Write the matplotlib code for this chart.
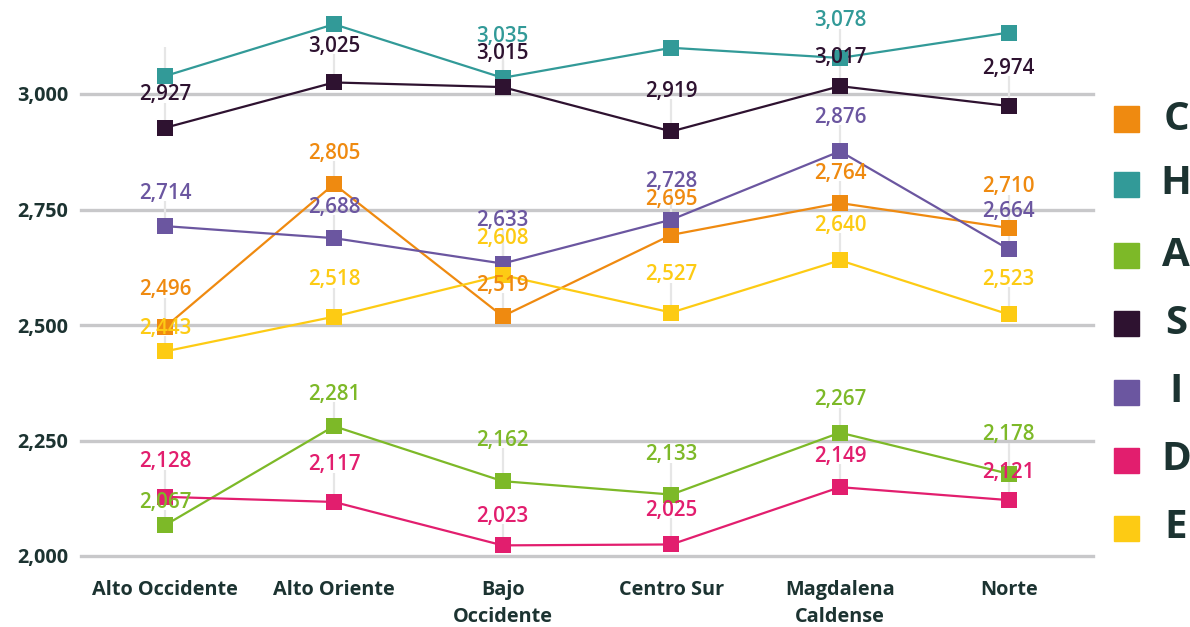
import matplotlib.pyplot as plt
from matplotlib.patches import Rectangle

# regiones y series
regiones = ["Alto Occidente", "Alto Oriente", "Bajo\nOccidente", "Centro Sur",
            "Magdalena\nCaldense", "Norte"]
series = ["C", "H", "A", "S", "I", "D", "E"]

C = [2496, 2805, 2519, 2695, 2764, 2710]
H = [3039, 3151, 3035, 3100, 3078, 3133]
A = [2067, 2281, 2162, 2133, 2267, 2178]
S = [2927, 3025, 3015, 2919, 3017, 2974]
I = [2714, 2688, 2633, 2728, 2876, 2664]
D = [2128, 2117, 2023, 2025, 2149, 2121]
E = [2443, 2518, 2608, 2527, 2640, 2523]
valores = {"C": C, "H": H, "A": A, "S": S, "I": I, "D": D, "E": E}

y_ticks = [2000, 2250, 2500, 2750, 3000]

colores = {
    "C": "#EF8A10",
    "H": "#329A98",
    "A": "#7DB928",
    "S": "#2E1230",
    "I": "#6B56A0",
    "D": "#E21E6E",
    "E": "#FDCB14",
}

# desplazamiento vertical (px) de cada etiqueta sobre su marcador; None = sin etiqueta
despl = {
    "C": [37, 31, 31, 35, 30, 41],
    "H": [None, None, 41, None, 37, None],
    "A": [23, 32, 41, 40, 33, 39],
    "S": [33, 36, 34, 40, 29, 38],
    "I": [33, 31, 43, 38, 34, 38],
    "D": [35, 37, 29, 34, 31, 28],
    "E": [23, 37, 37, 38, 35, 35],
}
# lineas guia sin etiqueta
guia_extra = {("H", 0): 37}

texto = "#1C3331"
fuente = "Open Sans"

W, Hpx = 1190, 627
fig = plt.figure(figsize=(W / 100, Hpx / 100), dpi=100)
ax = fig.add_axes([81 / W, 71 / Hpx, 1012 / W, 554.4 / Hpx])

ax.set_xlim(-0.5, 5.5)
ax.set_ylim(2000, 3200)
px_por_unidad = 554.4 / 1200

x = list(range(len(regiones)))

for s in series:
    ax.plot(x, valores[s], color=colores[s], lw=1.6, marker="s", markersize=11.5,
            markeredgewidth=0, zorder=3, clip_on=False)

for s in series:
    for i, v in enumerate(valores[s]):
        off = despl[s][i]
        if off is None:
            off = guia_extra.get((s, i))
            if off is None:
                continue
            mostrar = False
        else:
            mostrar = True
        top = v + (off - 8) / px_por_unidad
        ax.plot([i, i], [v, top], color="#E6E6E6", lw=1.6, zorder=1,
                solid_capstyle="butt")
        if mostrar:
            ax.annotate(f"{v:,}", (i, v), xytext=(0, off), textcoords="offset pixels",
                        ha="center", va="center", fontsize=14.8, fontweight="semibold",
                        family=fuente, color=colores[s], zorder=5)

ax.set_yticks(y_ticks)
ax.set_yticklabels([f"{t:,}" for t in y_ticks])
ax.set_xticks(x)
ax.set_xticklabels(regiones, linespacing=1.5)
for t in y_ticks:
    ax.axhline(t, color="#C8C8CA", lw=2.4, zorder=0, clip_on=False)
ax.tick_params(axis="both", length=0, labelsize=14.3, labelcolor=texto)
ax.tick_params(axis="y", pad=9)
ax.tick_params(axis="x", pad=17)
for lab in ax.get_xticklabels() + ax.get_yticklabels():
    lab.set_fontweight("bold")
    lab.set_family(fuente)
for sp in ax.spines.values():
    sp.set_visible(False)

# leyenda a la derecha
filas_y = [119, 184, 255, 323, 392, 460, 528]
for s, fy in zip(series, filas_y):
    fig.patches.append(Rectangle((1114 / W, 1 - (fy + 12.5) / Hpx), 25 / W, 25 / Hpx,
                                 transform=fig.transFigure, color=colores[s]))
    fig.text(1176 / W, 1 - fy / Hpx, s, ha="center", va="center", fontsize=29,
             fontweight="bold", family=fuente, color=texto)

fig.savefig("out.png", dpi=100)
